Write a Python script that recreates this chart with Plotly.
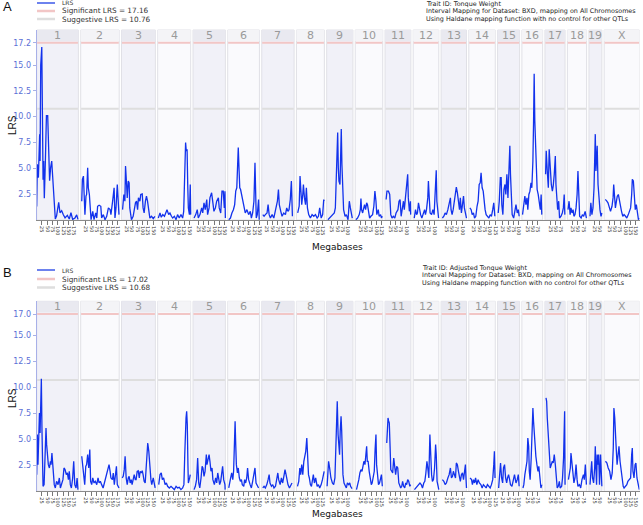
import plotly.graph_objects as go

# ---------------- data ----------------
chromosomes = ["1", "2", "3", "4", "5", "6", "7", "8", "9", "10",
               "11", "12", "13", "14", "15", "16", "17", "18", "19", "X"]
chrom_length_mb = [197, 182, 160, 156, 153, 150, 153, 132, 124, 130,
                   122, 121, 120, 125, 104, 98, 95, 91, 61, 167]
GAP_MB = 11

sig_A, sug_A = 17.16, 10.76
sig_B, sug_B = 17.02, 10.68
ytick_vals_A = [2.5, 5.0, 7.5, 10.0, 12.5, 15.0, 17.16]
ytick_text_A = ["2.5", "5.0", "7.5", "10.0", "12.5", "15.0", "17.2"]
ytick_vals_B = [2.5, 5.0, 7.5, 10.0, 12.5, 15.0, 17.02]
ytick_text_B = ["2.5", "5.0", "7.5", "10.0", "12.5", "15.0", "17.0"]

# Panel A: Tongue Weight  (position in Mb, LRS)
tongue_mb = {
    "1": [0, 3, 8, 11, 14, 16, 19, 24, 27, 30, 33, 36, 41, 46, 52, 55, 58, 61, 66, 71, 74, 79, 83, 88, 94, 104, 110, 118, 126, 134, 145, 154, 162, 170, 181, 189, 195],
    "2": [5, 8, 13, 16, 20, 25, 28, 33, 36, 41, 44, 49, 57, 63, 71, 76, 80, 87, 95, 99, 107, 115, 123, 131, 139, 143, 151, 158, 162, 167, 173, 178, 181],
    "3": [5, 11, 16, 19, 24, 27, 32, 36, 39, 47, 55, 60, 66, 71, 76, 80, 87, 91, 98, 102, 107, 113, 118, 123, 129, 134, 142, 150, 158],
    "4": [3, 11, 17, 24, 32, 39, 44, 52, 58, 65, 71, 79, 87, 94, 102, 110, 118, 123, 126, 129, 132, 135, 139, 142, 145, 150, 154, 156],
    "5": [5, 13, 20, 25, 33, 41, 46, 52, 58, 65, 69, 76, 80, 88, 93, 99, 106, 112, 120, 124, 131, 137, 143, 148, 151, 153],
    "6": [5, 13, 20, 27, 33, 38, 43, 47, 50, 54, 57, 61, 68, 72, 79, 83, 91, 99, 107, 112, 118, 124, 129, 132, 135, 140, 146, 149],
    "7": [5, 11, 17, 25, 30, 35, 41, 49, 57, 65, 69, 74, 79, 83, 90, 96, 104, 112, 118, 124, 129, 135, 140, 145],
    "8": [6, 13, 17, 20, 25, 30, 33, 38, 43, 47, 52, 58, 66, 74, 82, 90, 98, 104, 110, 117, 124, 129, 131],
    "9": [6, 14, 22, 30, 36, 41, 46, 49, 52, 55, 58, 63, 66, 69, 72, 75, 80, 87, 93, 101, 107, 112, 117, 121],
    "10": [3, 11, 19, 24, 27, 30, 35, 39, 44, 49, 54, 58, 63, 68, 74, 82, 88, 93, 98, 102, 109, 113, 120, 124, 128],
    "11": [5, 9, 16, 22, 27, 33, 39, 46, 52, 57, 61, 66, 71, 76, 82, 87, 91, 98, 102, 107, 110, 115, 120, 121],
    "12": [5, 11, 16, 20, 25, 30, 35, 41, 47, 54, 58, 63, 69, 72, 76, 80, 87, 93, 99, 104, 109, 112, 117, 120],
    "13": [6, 13, 19, 25, 32, 38, 44, 47, 52, 57, 61, 66, 72, 77, 82, 87, 91, 96, 101, 106, 110, 115, 120],
    "14": [5, 11, 16, 22, 27, 33, 39, 44, 49, 54, 58, 63, 68, 72, 77, 82, 88, 95, 101, 107, 113, 118, 123],
    "15": [3, 8, 13, 17, 20, 25, 30, 35, 39, 44, 49, 54, 58, 61, 65, 69, 76, 80, 87, 93, 98, 102],
    "16": [3, 9, 14, 19, 24, 28, 33, 38, 43, 47, 52, 55, 58, 61, 65, 68, 72, 77, 82, 87, 91, 94],
    "17": [3, 6, 11, 16, 20, 25, 30, 35, 39, 44, 49, 52, 55, 60, 65, 69, 76, 82, 87, 91, 94],
    "18": [3, 8, 13, 17, 22, 27, 31, 36, 41, 46, 50, 54, 58, 65, 71, 77, 84, 90],
    "19": [5, 9, 14, 19, 24, 27, 30, 33, 36, 39, 43, 47, 52, 57, 61],
    "X": [5, 11, 18, 24, 30, 37, 42, 45, 48, 53, 58, 62, 67, 72, 77, 82, 88, 94, 101, 107, 114, 120, 125, 130, 133, 138, 142, 147, 152, 157, 162, 166],
}
tongue_lrs = {
    "1": [1.3, 5.4, 4.1, 8.0, 8.3, 5.7, 15.0, 16.75, 11.6, 3.9, 5.7, 2.1, 5.7, 10.1, 10.1, 7.7, 8.0, 3.8, 5.1, 5.7, 4.7, 2.6, 1.2, 0.1, 0.4, 1.7, 0.7, 0.9, 0.5, 0.2, 0.45, 0.1, 0.7, 0.06, 0.2, 0.5, 0.06],
    "2": [1.82, 3.93, 4.25, 2.47, 0.52, 2.31, 2.47, 5.06, 3.12, 2.47, 1.0, 0.03, 0.84, 0.03, 0.68, 0.19, 1.33, 1.43, 1.33, 0.19, 0.52, 0.03, 0.36, 1.17, 1.0, 0.52, 1.82, 3.12, 0.19, 1.17, 3.44, 2.14, 0.52],
    "3": [1.0, 2.47, 1.82, 5.23, 3.44, 2.14, 3.77, 3.6, 1.17, 0.03, 0.36, 1.17, 1.66, 1.82, 1.0, 2.14, 1.82, 2.47, 2.53, 1.17, 0.68, 1.82, 2.31, 1.82, 0.84, 0.19, 0.36, 0.13, 0.36],
    "4": [0.19, 0.68, 0.26, 0.52, 0.36, 0.84, 1.0, 0.52, 0.68, 0.36, 0.19, 0.36, 0.03, 0.52, 0.19, 0.52, 0.19, 0.84, 3.44, 5.88, 7.5, 6.69, 6.85, 3.44, 1.17, 0.52, 3.44, 0.52],
    "5": [0.19, 0.52, 1.0, 0.19, 0.52, 1.17, 0.68, 1.66, 1.0, 1.98, 0.52, 1.17, 2.14, 2.63, 1.82, 0.84, 1.17, 1.82, 2.14, 1.17, 0.68, 2.79, 2.79, 1.17, 2.79, 0.19],
    "6": [0.03, 0.19, 0.68, 1.0, 1.49, 2.79, 3.12, 5.06, 7.01, 4.74, 3.12, 2.95, 2.14, 1.98, 0.84, 0.68, 1.0, 0.52, 0.84, 0.19, 0.68, 1.82, 5.55, 3.77, 0.19, 0.52, 1.98, 0.03],
    "7": [0.52, 0.36, 0.52, 0.68, 1.49, 0.52, 0.19, 0.52, 0.19, 1.0, 1.66, 1.82, 2.95, 1.49, 0.84, 0.36, 0.68, 0.52, 1.17, 0.84, 1.0, 1.98, 3.77, 0.36],
    "8": [0.68, 1.33, 4.25, 2.79, 1.49, 2.47, 3.44, 2.14, 1.49, 3.12, 1.17, 0.52, 0.19, 0.52, 0.36, 0.52, 0.19, 0.36, 1.17, 0.19, 0.52, 1.98, 1.82],
    "9": [0.03, 0.19, 0.36, 0.52, 0.68, 1.17, 4.74, 6.2, 8.47, 5.06, 3.77, 3.44, 6.85, 8.8, 5.39, 3.44, 1.0, 0.36, 0.52, 0.03, 1.82, 1.17, 0.68, 0.19],
    "10": [0.03, 0.19, 0.52, 1.0, 2.08, 1.0, 0.68, 1.17, 1.49, 1.0, 1.66, 1.49, 0.84, 0.19, 0.36, 0.52, 1.33, 2.79, 1.82, 0.52, 1.0, 0.36, 0.52, 0.19, 0.36],
    "11": [1.98, 2.79, 2.79, 2.47, 0.52, 0.19, 0.36, 0.19, 0.68, 0.84, 1.0, 1.82, 1.98, 0.36, 1.0, 1.82, 1.0, 2.79, 3.6, 4.42, 2.14, 0.84, 1.82, 0.52],
    "12": [0.19, 1.0, 0.52, 0.68, 1.66, 1.0, 0.52, 0.19, 0.68, 1.0, 0.52, 1.0, 2.14, 3.77, 2.14, 0.68, 0.52, 1.0, 0.52, 2.47, 4.81, 1.82, 0.36, 0.19],
    "13": [0.19, 0.36, 0.68, 0.52, 1.0, 1.66, 2.14, 1.0, 0.52, 1.0, 1.49, 2.14, 3.18, 2.63, 1.82, 1.0, 2.14, 0.68, 1.49, 2.31, 1.17, 0.52, 0.19],
    "14": [1.17, 1.0, 0.52, 0.68, 0.19, 0.36, 1.33, 1.82, 3.44, 3.6, 4.58, 3.12, 2.79, 1.66, 1.0, 0.52, 0.36, 0.19, 0.52, 0.36, 1.0, 1.66, 0.36],
    "15": [0.68, 1.82, 4.09, 4.09, 1.49, 0.52, 2.95, 3.44, 2.47, 4.42, 2.14, 5.06, 7.18, 4.42, 1.82, 0.52, 0.19, 0.68, 1.49, 0.68, 1.0, 0.36],
    "16": [0.52, 1.49, 2.31, 1.49, 2.14, 1.0, 2.47, 2.79, 3.6, 3.12, 5.71, 9.29, 14.16, 9.61, 6.04, 4.58, 2.95, 2.47, 1.82, 1.0, 2.47, 0.52],
    "17": [4.42, 6.69, 4.74, 3.12, 6.85, 4.74, 3.44, 2.79, 3.28, 4.42, 6.2, 3.44, 2.47, 1.0, 1.82, 0.19, 0.36, 0.68, 1.17, 2.47, 0.52],
    "18": [1.0, 1.82, 0.52, 1.17, 0.68, 1.0, 0.36, 0.52, 1.17, 2.47, 4.74, 2.47, 0.36, 0.19, 0.52, 0.36, 0.84, 0.19],
    "19": [0.36, 1.66, 0.52, 1.17, 3.12, 6.36, 8.31, 4.74, 7.01, 7.18, 3.44, 1.82, 1.0, 0.36, 0.68],
    "X": [1.98, 1.88, 1.66, 1.17, 0.84, 1.33, 2.14, 3.44, 2.47, 1.17, 1.82, 2.31, 2.47, 1.82, 1.17, 0.84, 0.36, 0.52, 0.36, 0.19, 0.52, 1.0, 1.17, 2.47, 3.93, 3.77, 1.82, 1.0, 1.49, 0.52, 0.03, 0.19],
}

# Panel B: Adjusted Tongue Weight
adjusted_mb = {
    "1": [0, 3, 6, 9, 13, 16, 19, 22, 25, 27, 30, 35, 38, 41, 44, 47, 50, 55, 60, 65, 68, 72, 76, 79, 83, 88, 94, 101, 107, 112, 118, 124, 129, 134, 140, 145, 150, 154, 159, 164, 170, 175, 180, 186, 191, 195],
    "2": [5, 9, 14, 19, 24, 28, 33, 38, 43, 47, 52, 57, 63, 69, 76, 82, 87, 93, 99, 106, 112, 118, 123, 128, 134, 139, 143, 150, 154, 159, 164, 169, 173, 178, 181],
    "3": [3, 8, 13, 17, 22, 27, 32, 36, 41, 46, 50, 55, 60, 65, 69, 74, 79, 84, 88, 93, 98, 102, 107, 112, 117, 121, 124, 129, 134, 139, 143, 150, 156, 159],
    "4": [5, 11, 17, 22, 28, 35, 41, 47, 55, 63, 71, 79, 87, 94, 102, 110, 118, 124, 128, 131, 134, 137, 140, 143, 145, 151, 154],
    "5": [5, 11, 17, 22, 27, 32, 38, 43, 47, 52, 57, 63, 66, 71, 76, 80, 85, 90, 94, 101, 107, 112, 117, 121, 126, 131, 135, 140, 145, 151, 152],
    "6": [5, 9, 14, 19, 24, 28, 32, 35, 38, 41, 46, 50, 55, 60, 65, 69, 76, 80, 85, 90, 94, 99, 106, 112, 118, 124, 129, 134, 140, 146],
    "7": [5, 11, 17, 24, 30, 35, 39, 46, 52, 58, 65, 71, 76, 80, 87, 93, 99, 106, 110, 115, 120, 124, 131, 137, 143],
    "8": [5, 11, 16, 20, 25, 30, 35, 39, 44, 49, 52, 57, 61, 66, 71, 76, 80, 85, 91, 98, 104, 110, 117, 123, 128, 131],
    "9": [2, 9, 14, 20, 27, 33, 39, 44, 47, 50, 54, 57, 61, 64, 68, 71, 74, 77, 82, 87, 93, 98, 104, 109, 113, 120],
    "10": [6, 13, 17, 22, 27, 32, 36, 41, 46, 50, 54, 57, 61, 66, 71, 76, 80, 85, 90, 94, 98, 101, 106, 110, 115, 120, 124, 128],
    "11": [8, 11, 14, 17, 20, 24, 27, 32, 36, 41, 46, 50, 55, 60, 65, 69, 74, 79, 83, 88, 93, 98, 102, 107, 112, 117, 121],
    "12": [6, 13, 19, 25, 32, 38, 44, 50, 55, 60, 65, 69, 74, 79, 82, 87, 91, 96, 101, 106, 109, 113, 118, 121],
    "13": [6, 13, 19, 25, 32, 38, 44, 49, 54, 58, 63, 68, 72, 77, 82, 87, 91, 96, 101, 106, 110, 115, 118, 120],
    "14": [6, 13, 17, 22, 27, 32, 38, 44, 50, 57, 63, 69, 76, 82, 88, 95, 101, 107, 113, 118, 121, 124],
    "15": [5, 9, 14, 19, 24, 28, 33, 38, 43, 47, 52, 57, 61, 68, 74, 80, 87, 93, 98, 102],
    "16": [5, 9, 14, 19, 24, 28, 32, 35, 39, 44, 49, 52, 55, 58, 61, 66, 71, 76, 80, 85, 90, 94],
    "17": [5, 8, 11, 14, 17, 20, 25, 30, 35, 39, 44, 49, 54, 58, 63, 68, 72, 79, 83, 88, 93, 95],
    "18": [5, 9, 14, 17, 22, 27, 31, 36, 41, 46, 50, 57, 63, 69, 76, 80, 85, 90],
    "19": [5, 9, 13, 17, 22, 27, 30, 33, 36, 39, 43, 46, 50, 55, 58, 61],
    "X": [6, 13, 19, 26, 32, 38, 43, 46, 50, 53, 56, 61, 66, 70, 75, 80, 85, 90, 94, 101, 107, 112, 118, 125, 130, 133, 136, 141, 146, 150, 155, 162, 166],
}
adjusted_lrs = {
    "1": [1.6, 5.44, 2.56, 5.12, 7.52, 5.6, 8.96, 10.81, 5.76, 0.96, 0.48, 0.64, 3.2, 5.12, 6.08, 4.48, 3.52, 2.56, 2.24, 2.88, 2.56, 3.68, 2.56, 1.12, 0.64, 0.32, 0.96, 0.64, 1.28, 0.32, 0.8, 1.12, 2.24, 2.08, 1.6, 1.76, 1.12, 1.92, 0.64, 0.32, 1.28, 2.88, 0.64, 0.32, 1.28, 0.16],
    "2": [3.36, 2.4, 1.28, 0.64, 2.4, 2.56, 3.52, 2.24, 4.0, 0.96, 0.64, 1.28, 0.8, 0.96, 0.64, 1.28, 0.8, 0.96, 0.64, 0.32, 0.8, 1.28, 1.6, 1.92, 2.56, 1.92, 1.28, 1.12, 1.76, 0.64, 1.92, 2.4, 0.64, 0.48, 0.32],
    "3": [1.28, 1.44, 2.08, 3.36, 1.28, 0.64, 1.28, 1.44, 0.8, 1.12, 0.64, 1.28, 1.6, 1.12, 1.12, 1.92, 1.98, 1.28, 1.92, 1.76, 1.98, 1.6, 0.96, 0.8, 2.08, 3.84, 4.64, 3.84, 1.92, 1.12, 0.64, 1.28, 0.64, 0.32],
    "4": [0.64, 1.6, 1.76, 1.12, 1.28, 0.64, 0.8, 0.48, 0.32, 0.48, 0.32, 0.16, 0.48, 0.32, 0.38, 0.16, 0.32, 0.64, 3.52, 6.24, 7.04, 7.68, 6.4, 2.56, 0.8, 1.28, 1.6],
    "5": [0.16, 0.48, 1.12, 3.2, 0.8, 0.32, 1.28, 2.4, 2.24, 1.44, 1.92, 3.52, 2.56, 3.2, 3.52, 2.88, 1.92, 2.24, 1.12, 0.64, 1.28, 0.8, 1.76, 1.28, 0.64, 0.96, 1.6, 2.4, 1.12, 0.64, 0.16],
    "6": [0.32, 0.64, 1.28, 1.76, 1.12, 1.92, 4.8, 6.72, 4.48, 2.56, 1.76, 2.24, 1.28, 0.96, 1.12, 0.64, 0.48, 1.12, 0.8, 1.28, 2.24, 1.12, 0.64, 0.32, 0.96, 1.92, 2.24, 0.8, 0.48, 0.32],
    "7": [0.32, 0.48, 0.32, 0.64, 1.12, 1.6, 0.8, 0.48, 0.64, 0.32, 0.48, 1.28, 1.76, 1.12, 0.64, 1.28, 0.8, 1.6, 2.08, 1.6, 0.8, 0.64, 0.32, 0.64, 0.8],
    "8": [0.48, 0.96, 2.24, 1.6, 2.56, 1.6, 2.88, 3.2, 3.84, 5.12, 3.68, 1.6, 1.28, 0.64, 0.48, 1.12, 1.6, 0.8, 1.28, 0.48, 0.64, 0.32, 0.64, 1.12, 1.76, 1.92],
    "9": [0.48, 2.88, 2.24, 1.28, 0.8, 0.64, 1.28, 3.84, 6.08, 8.64, 5.44, 3.84, 3.52, 5.76, 7.2, 5.76, 3.2, 1.6, 0.8, 0.48, 0.32, 0.8, 0.64, 0.8, 0.48, 0.26],
    "10": [0.16, 0.64, 1.12, 1.76, 2.08, 1.92, 2.24, 2.88, 2.56, 3.52, 4.32, 2.88, 2.88, 1.92, 1.12, 0.64, 0.8, 1.6, 1.92, 4.0, 5.44, 2.56, 1.12, 0.64, 0.8, 1.44, 1.6, 0.48],
    "11": [4.64, 6.4, 7.04, 6.72, 6.56, 4.16, 2.08, 1.92, 1.76, 3.2, 2.24, 1.6, 2.4, 2.24, 0.8, 0.64, 0.32, 0.48, 0.96, 0.48, 0.32, 0.8, 0.64, 1.12, 0.96, 0.48, 0.64],
    "12": [0.16, 0.32, 0.48, 0.64, 0.8, 0.64, 0.32, 0.8, 0.96, 1.76, 2.88, 2.24, 1.28, 5.44, 3.52, 1.6, 0.96, 1.12, 2.24, 4.48, 3.52, 0.96, 0.48, 0.16],
    "13": [1.12, 0.96, 0.64, 0.8, 1.28, 1.6, 2.24, 1.28, 1.44, 1.92, 1.6, 1.28, 2.72, 2.56, 1.92, 1.12, 0.96, 1.6, 1.76, 1.12, 1.76, 2.56, 1.12, 0.32],
    "14": [1.28, 1.12, 0.64, 1.12, 0.8, 1.28, 0.64, 1.12, 0.8, 0.64, 0.32, 0.64, 0.48, 0.32, 0.64, 0.48, 0.32, 0.64, 1.12, 2.56, 3.84, 1.28],
    "15": [0.32, 1.6, 2.72, 1.28, 0.8, 2.24, 2.56, 1.28, 0.8, 1.28, 1.6, 1.12, 0.64, 0.48, 1.12, 1.6, 0.8, 1.12, 1.6, 0.48],
    "16": [0.32, 0.64, 1.6, 2.4, 2.88, 5.12, 4.32, 1.92, 1.12, 3.2, 6.08, 8.0, 6.72, 5.76, 4.48, 3.36, 2.56, 1.92, 2.4, 1.12, 0.32, 0.64],
    "17": [8.96, 8.64, 7.04, 5.76, 4.16, 3.2, 2.24, 2.56, 2.88, 2.72, 3.52, 2.56, 1.28, 0.32, 0.48, 0.96, 0.32, 0.48, 1.28, 3.2, 7.68, 0.64],
    "18": [1.12, 1.6, 2.24, 3.68, 2.56, 1.28, 0.8, 1.28, 2.56, 1.12, 0.48, 0.64, 0.32, 1.12, 1.6, 1.12, 2.56, 0.64],
    "19": [0.64, 1.92, 2.88, 1.28, 0.8, 2.24, 4.32, 2.24, 0.64, 3.52, 2.56, 3.52, 0.64, 3.52, 1.12, 0.48],
    "X": [2.88, 2.72, 2.24, 1.92, 1.12, 1.76, 4.16, 8.0, 7.04, 5.12, 4.48, 2.56, 3.52, 4.32, 2.88, 1.92, 1.12, 0.48, 0.32, 0.48, 0.64, 0.96, 1.12, 1.28, 3.52, 4.16, 1.92, 1.28, 2.56, 2.72, 1.28, 0.64, 0.16],
}

# ---------------- layout helpers ----------------
W, H = 643, 525
FONT = "DejaVu Sans"
LINE_BLUE = "#1232ec"
AXIS_BLUE = "#5b6fd6"
SIG_COLOR = "#f2c6c6"
SUG_COLOR = "#dedede"

offsets = []
acc = 0
for L in chrom_length_mb:
    offsets.append(acc)
    acc += L + GAP_MB
x_total = offsets[-1] + chrom_length_mb[-1]


def py(p):  # pixel row -> paper y
    return 1 - p / H


def px(p):  # pixel col -> paper x
    return p / W


x_dom = [px(36.7), px(639.5)]
panels = [
    dict(xa="x", ya="y", xname="xaxis", yname="yaxis", dom=[py(220), py(30)],
         top=18.39, sig=sig_A, sug=sug_A, tv=ytick_vals_A, tt=ytick_text_A,
         mb=tongue_mb, lrs=tongue_lrs),
    dict(xa="x2", ya="y2", xname="xaxis2", yname="yaxis2", dom=[py(491.3), py(301.3)],
         top=18.24, sig=sig_B, sug=sug_B, tv=ytick_vals_B, tt=ytick_text_B,
         mb=adjusted_mb, lrs=adjusted_lrs),
]

fig = go.Figure()
shapes = []
annotations = []

tickvals, ticktext = [], []
for c, L, off in zip(chromosomes, chrom_length_mb, offsets):
    k = 25
    while k <= L:
        tickvals.append(off + k)
        ticktext.append(str(k))
        k += 25

for P in panels:
    xs, ys = [], []
    for c, off in zip(chromosomes, offsets):
        xs += [off + m for m in P["mb"][c]] + [None]
        ys += list(P["lrs"][c]) + [None]
    fig.add_trace(go.Scatter(x=xs, y=ys, mode="lines", xaxis=P["xa"], yaxis=P["ya"],
                             line=dict(color=LINE_BLUE, width=1.3), showlegend=False,
                             hoverinfo="skip", connectgaps=False))

    for i, (c, L, off) in enumerate(zip(chromosomes, chrom_length_mb, offsets)):
        odd = (i % 2 == 0)
        shapes.append(dict(type="rect", xref=P["xa"], yref=P["ya"] + " domain",
                           x0=off, x1=off + L, y0=0, y1=1, layer="below",
                           fillcolor="#f1f1f8" if odd else "#fafafd",
                           line=dict(color="#e0e0e6", width=1)))
        shapes.append(dict(type="rect", xref=P["xa"], yref=P["ya"] + " domain",
                           x0=off, x1=off + L, y0=0.942, y1=1, layer="below",
                           fillcolor="#e9e9f0" if odd else "#f4f4f7",
                           line=dict(width=0)))
        shapes.append(dict(type="line", xref=P["xa"], yref=P["ya"],
                           x0=off + 2, x1=off + L - 2, y0=P["sig"], y1=P["sig"],
                           layer="below", line=dict(color=SIG_COLOR, width=2)))
        shapes.append(dict(type="line", xref=P["xa"], yref=P["ya"],
                           x0=off + 2, x1=off + L - 2, y0=P["sug"], y1=P["sug"],
                           layer="below", line=dict(color=SUG_COLOR, width=2)))
        annotations.append(dict(xref=P["xa"], yref=P["ya"] + " domain",
                                x=off + L / 2, y=0.971, text=c, showarrow=False,
                                font=dict(family=FONT, size=11, color="#9a9a9a"),
                                xanchor="center", yanchor="middle"))

fig.update_layout(
    width=W, height=H, margin=dict(l=0, r=0, t=0, b=0),
    paper_bgcolor="white", plot_bgcolor="white", showlegend=False,
    hovermode=False,
)
for P in panels:
    fig.layout[P["xname"]] = dict(
        domain=x_dom, range=[0, x_total], anchor=P["ya"], showgrid=False,
        zeroline=False, showline=True, linecolor="#8a8a8a", linewidth=1,
        tickmode="array", tickvals=tickvals, ticktext=ticktext, tickangle=90,
        ticks="outside", ticklen=4, tickcolor="#777", tickwidth=1,
        tickfont=dict(family=FONT, size=5, color="#333"),
    )
    fig.layout[P["yname"]] = dict(
        domain=P["dom"], range=[0, P["top"]], anchor=P["xa"], showgrid=False,
        zeroline=False, showline=True, linecolor="#a8b0e8", linewidth=1,
        tickmode="array", tickvals=P["tv"], ticktext=P["tt"],
        ticks="outside", ticklen=3, tickcolor="#a8b0e8",
        tickfont=dict(family=FONT, size=8, color=AXIS_BLUE),
    )


def legend_block(y_lrs, y_sig, y_sug, sig, sug):
    for y, col, w in [(y_lrs, "#3c58e8", 1.5), (y_sig, SIG_COLOR, 2.5), (y_sug, SUG_COLOR, 2.5)]:
        shapes.append(dict(type="line", xref="paper", yref="paper",
                           x0=px(37), x1=px(55), y0=py(y), y1=py(y),
                           line=dict(color=col, width=w)))
    annotations.append(dict(xref="paper", yref="paper", x=px(60), y=py(y_lrs), text="LRS",
                            showarrow=False, xanchor="left", yanchor="middle",
                            font=dict(family=FONT, size=6, color="#333")))
    annotations.append(dict(xref="paper", yref="paper", x=px(60), y=py(y_sig),
                            text=f"Significant LRS = {sig:.2f}",
                            showarrow=False, xanchor="left", yanchor="middle",
                            font=dict(family=FONT, size=7.3, color="#333")))
    annotations.append(dict(xref="paper", yref="paper", x=px(60), y=py(y_sug),
                            text=f"Suggestive LRS = {sug:.2f}",
                            showarrow=False, xanchor="left", yanchor="middle",
                            font=dict(family=FONT, size=7.3, color="#333")))


def info_block(x0, ys, lines):
    for y, t in zip(ys, lines):
        annotations.append(dict(xref="paper", yref="paper", x=px(x0), y=py(y), text=t,
                                showarrow=False, xanchor="left", yanchor="middle",
                                font=dict(family=FONT, size=6.4, color="#222")))


# Panel A decorations
annotations.append(dict(xref="paper", yref="paper", x=px(1), y=py(7), text="A",
                        showarrow=False, xanchor="left", yanchor="middle",
                        font=dict(family="Liberation Sans", size=13, color="#111")))
legend_block(3, 11, 19, sig_A, sug_A)
info_block(424, [4, 11.5, 19],
           ["Trait ID: Tonque Weight",
            "Interval Mapping for Dataset: BXD, mapping on All Chromosomes",
            "Using Haldane mapping function with no control for other QTLs"])
annotations.append(dict(xref="paper", yref="paper", x=px(12), y=py(125), text="LRS",
                        showarrow=False, textangle=-90, xanchor="center", yanchor="middle",
                        font=dict(family="Liberation Sans", size=10, color="#111")))
annotations.append(dict(xref="paper", yref="paper", x=px(337), y=py(247), text="Megabases",
                        showarrow=False, xanchor="center", yanchor="middle",
                        font=dict(family=FONT, size=9, color="#111")))

# Panel B decorations
annotations.append(dict(xref="paper", yref="paper", x=px(1), y=py(272), text="B",
                        showarrow=False, xanchor="left", yanchor="middle",
                        font=dict(family="Liberation Sans", size=13, color="#111")))
legend_block(270, 279, 287.5, sig_B, sug_B)
info_block(420, [267.5, 275, 282.5],
           ["Trait ID: Adjusted Tonque Weight",
            "Interval Mapping for Dataset: BXD, mapping on All Chromosomes",
            "Using Haldane mapping function with no control for other QTLs"])
annotations.append(dict(xref="paper", yref="paper", x=px(12), y=py(398), text="LRS",
                        showarrow=False, textangle=-90, xanchor="center", yanchor="middle",
                        font=dict(family="Liberation Sans", size=10, color="#111")))
annotations.append(dict(xref="paper", yref="paper", x=px(337), y=py(514), text="Megabases",
                        showarrow=False, xanchor="center", yanchor="middle",
                        font=dict(family=FONT, size=9, color="#111")))

fig.update_layout(shapes=shapes, annotations=annotations)
fig.write_html("out.html", config={"displayModeBar": False, "staticPlot": True},
               post_script="document.body.style.margin='0';document.body.style.overflow='hidden';")
